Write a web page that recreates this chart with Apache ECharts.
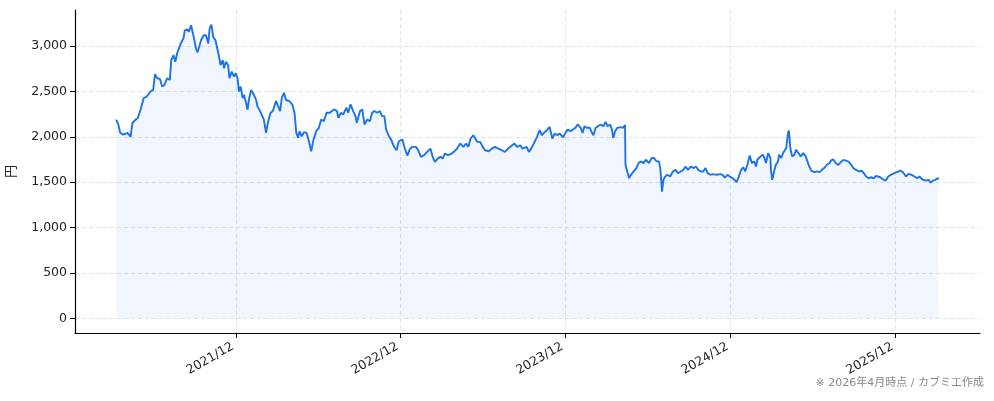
<!DOCTYPE html>
<html>
<head>
<meta charset="utf-8">
<script src="https://cdn.jsdelivr.net/npm/echarts@6/dist/echarts.min.js"></script>
<style>
html,body{margin:0;padding:0;background:#fff;}
#chart{width:994px;height:401px;}
</style>
</head>
<body>
<div id="chart"></div>
<script>
const dates = [
'2021-03-11','2021-03-16','2021-03-20','2021-03-24','2021-03-27','2021-04-05','2021-04-12','2021-04-16','2021-04-23','2021-04-28',
'2021-05-04','2021-05-11','2021-05-18','2021-05-26','2021-06-01','2021-06-05','2021-06-10','2021-06-16','2021-06-21','2021-06-26',
'2021-07-02','2021-07-08','2021-07-11','2021-07-16','2021-07-20','2021-07-24','2021-08-01','2021-08-07','2021-08-10','2021-08-16',
'2021-08-19','2021-08-24','2021-08-29','2021-09-04','2021-09-07','2021-09-11','2021-09-15','2021-09-21','2021-09-26','2021-09-29',
'2021-10-01','2021-10-04','2021-10-08','2021-10-12','2021-10-17','2021-10-21','2021-10-25','2021-10-28','2021-11-02','2021-11-05',
'2021-11-09','2021-11-14','2021-11-17','2021-11-22','2021-11-27','2021-12-01','2021-12-05','2021-12-08','2021-12-12','2021-12-16',
'2021-12-19','2021-12-23','2021-12-27','2021-12-30',
'2022-01-04','2022-01-10','2022-01-15','2022-01-18','2022-01-24','2022-02-01','2022-02-06','2022-02-10','2022-02-16','2022-02-21',
'2022-02-28','2022-03-03','2022-03-09','2022-03-13','2022-03-18','2022-03-22','2022-03-29','2022-04-05','2022-04-10','2022-04-14',
'2022-04-18','2022-04-21','2022-04-26','2022-05-01','2022-05-07','2022-05-12','2022-05-17','2022-05-22','2022-05-28','2022-06-03',
'2022-06-08','2022-06-14','2022-06-20','2022-06-27','2022-07-02','2022-07-07','2022-07-13','2022-07-16','2022-07-22','2022-07-27',
'2022-08-03','2022-08-07','2022-08-12','2022-08-18','2022-08-23','2022-08-26','2022-09-02','2022-09-07','2022-09-12','2022-09-18',
'2022-09-24','2022-09-29','2022-10-04','2022-10-10','2022-10-16','2022-10-21','2022-10-26','2022-10-30','2022-11-05','2022-11-10',
'2022-11-16','2022-11-22','2022-11-27','2022-12-05','2022-12-10','2022-12-16','2022-12-21','2022-12-26',
'2023-01-04','2023-01-09','2023-01-15','2023-01-22','2023-01-29','2023-02-05','2023-02-10','2023-02-15','2023-02-21','2023-02-27',
'2023-03-04','2023-03-09','2023-03-16','2023-03-24','2023-03-29','2023-04-05','2023-04-12','2023-04-19','2023-04-25','2023-04-30',
'2023-05-05','2023-05-11','2023-05-15','2023-05-20','2023-05-26','2023-06-01','2023-06-06','2023-06-14','2023-06-21','2023-06-28',
'2023-07-05','2023-07-13','2023-07-20','2023-07-27','2023-08-05','2023-08-10','2023-08-16','2023-08-23','2023-08-28','2023-09-06',
'2023-09-11','2023-09-16','2023-09-22','2023-09-29','2023-10-05','2023-10-10','2023-10-15','2023-10-21','2023-10-27','2023-11-02',
'2023-11-07','2023-11-13','2023-11-18','2023-11-26','2023-12-01','2023-12-06','2023-12-12','2023-12-18','2023-12-23','2023-12-28',
'2024-01-04','2024-01-08','2024-01-12','2024-01-18','2024-01-24','2024-01-27','2024-02-01','2024-02-06','2024-02-11','2024-02-17',
'2024-02-23','2024-02-28','2024-03-03','2024-03-09','2024-03-13','2024-03-16','2024-03-20','2024-03-25','2024-04-01','2024-04-07',
'2024-04-11','2024-04-12','2024-04-16','2024-04-20','2024-04-24','2024-04-30','2024-05-06','2024-05-11','2024-05-16','2024-05-22',
'2024-05-27','2024-06-03','2024-06-09','2024-06-14','2024-06-20','2024-06-25','2024-06-28','2024-07-02','2024-07-05','2024-07-09',
'2024-07-14','2024-07-20','2024-07-26','2024-08-01','2024-08-06','2024-08-12','2024-08-18','2024-08-23','2024-08-28','2024-09-04',
'2024-09-10','2024-09-15','2024-09-20','2024-09-26','2024-10-01','2024-10-06','2024-10-11','2024-10-17','2024-10-23','2024-10-30',
'2024-11-08','2024-11-13','2024-11-18','2024-11-24','2024-11-29','2024-12-05','2024-12-10','2024-12-14','2024-12-19','2024-12-24',
'2024-12-29',
'2025-01-02','2025-01-07','2025-01-12','2025-01-17','2025-01-22','2025-01-26','2025-01-29','2025-02-05','2025-02-10','2025-02-14',
'2025-02-17','2025-02-22','2025-02-27','2025-02-28','2025-03-03','2025-03-07','2025-03-11','2025-03-16','2025-03-18','2025-03-23',
'2025-03-27','2025-04-03','2025-04-07','2025-04-09','2025-04-12','2025-04-16','2025-04-21','2025-04-25','2025-04-30','2025-05-05',
'2025-05-11','2025-05-16','2025-05-20','2025-05-24','2025-05-29','2025-06-04','2025-06-10','2025-06-16','2025-06-21','2025-06-26',
'2025-07-02','2025-07-08','2025-07-11','2025-07-16','2025-07-22','2025-07-27','2025-08-03','2025-08-08','2025-08-13','2025-08-19',
'2025-08-25','2025-08-30','2025-09-05','2025-09-11','2025-09-17','2025-09-22','2025-09-27','2025-10-03','2025-10-09','2025-10-14',
'2025-10-19','2025-10-23','2025-10-28','2025-11-03','2025-11-09','2025-11-15','2025-11-20','2025-11-25','2025-12-01','2025-12-07',
'2025-12-12','2025-12-18','2025-12-24','2025-12-30',
'2026-01-06','2026-01-12','2026-01-18','2026-01-23','2026-01-29','2026-02-06','2026-02-12','2026-02-17','2026-02-22','2026-02-27',
'2026-03-04','2026-03-07'
];
const prices = [
2190,2135,2044,2062,2026,2044,2000,2153,2190,2208,
2300,2427,2445,2500,2518,2690,2646,2639,2555,2573,
2646,2628,2847,2902,2829,2920,3029,3084,3175,3186,
3157,3230,3120,2975,2931,2993,3066,3120,3120,3139,
3029,3194,3237,3102,3066,2975,2883,2792,2847,2756,
2829,2792,2646,2719,2664,2701,2646,2500,2555,2427,
2464,2391,2300,2409,
2518,2464,2409,2336,2281,2192,2044,2155,2266,2285,
2396,2414,2285,2433,2488,2407,2396,2359,2266,2044,
1989,2063,2007,2052,2044,1952,1841,1970,2063,2100,
2192,2174,2266,2266,2285,2303,2285,2211,2266,2248,
2322,2266,2359,2285,2229,2155,2285,2303,2137,2192,
2174,2266,2285,2266,2285,2229,2229,2081,2007,1970,
1896,1852,1952,1970,1878,1793,1859,1890,
1890,1853,1780,1798,1835,1871,1780,1724,1761,1780,
1761,1816,1798,1816,1835,1871,1927,1890,1927,1890,
1982,2018,2011,1945,1945,1890,1853,1842,1871,1890,
1871,1853,1835,1871,1908,1927,1890,1908,1871,1890,
1835,1871,1927,2000,2074,2018,2048,2074,2110,1982,
2037,2018,2037,1996,2044,2081,2063,2081,2100,2137,
2100,2044,2118,2100,2100,2063,2018,2100,2118,2137,
2118,2166,2118,2137,2081,1989,2063,2100,2107,2100,
2130,1693,1619,1545,1582,1619,1656,1711,1730,1711,
1748,1711,1767,1767,1730,1730,1656,1397,1526,1563,
1582,1563,1619,1637,1600,1619,1637,1674,1637,1674,
1656,1674,1637,1619,1619,1656,1600,1582,1589,1582,
1589,1582,1552,1582,1563,1545,1526,1500,1563,1637,
1663,
1619,1693,1796,1711,1730,1674,1748,1785,1804,1767,
1711,1822,1767,1637,1526,1619,1693,1730,1804,1767,
1822,1878,2044,2070,1878,1785,1804,1859,1822,1785,
1822,1785,1730,1674,1626,1611,1619,1611,1637,1656,
1693,1711,1739,1754,1710,1691,1728,1746,1739,1728,
1691,1654,1636,1618,1629,1599,1563,1544,1555,1544,
1570,1592,1555,1533,1518,1563,1581,1592,1607,1618,
1629,1607,1563,1592,
1581,1563,1544,1563,1533,1518,1526,1496,1518,1526,
1544,1533
];
const xTickDates = ['2021-12-01','2022-12-01','2023-12-01','2024-12-01','2025-12-01'];
const yTicks = [0, 500, 1000, 1500, 2000, 2500, 3000];
const yLabel = '円';
const footnote = '※ 2026年4月時点 / カブミエ作成';

const FONT = '"DejaVu Sans", "Noto Sans CJK JP", sans-serif';
const times = dates.map(d => Date.parse(d));
const t0 = times[0];
const t1 = times[times.length - 1];
const span = t1 - t0;
const pMax = Math.max(...prices);
const xTicks = xTickDates.map(d => Date.parse(d));

const chart = echarts.init(document.getElementById('chart'), null, {renderer: 'canvas'});
chart.setOption({
  animation: false,
  backgroundColor: '#ffffff',
  grid: {left: 75, right: 14, top: 10, bottom: 68, containLabel: false, outerBoundsMode: 'none'},
  xAxis: {
    type: 'value',
    min: t0 - span * 0.05,
    max: t1 + span * 0.05,
    axisLine: {show: true, onZero: false, lineStyle: {color: '#000', width: 1.2}},
    axisTick: {show: true, length: 5, lineStyle: {color: '#000'}, customValues: xTicks},
    axisLabel: {
      customValues: xTicks,
      rotate: 30,
      color: '#222',
      fontSize: 12.5,
      fontFamily: FONT,
      margin: 18,
      align: 'right',
      verticalAlign: 'bottom',
      formatter: v => { const d = new Date(v); return d.getUTCFullYear() + '/' + String(d.getUTCMonth() + 1).padStart(2, '0'); }
    },
    splitLine: {show: true, lineStyle: {color: '#e3e3e3', type: [4, 3], width: 1}}
  },
  yAxis: {
    type: 'value',
    min: -pMax * 0.05,
    max: pMax * 1.05,
    name: yLabel,
    nameLocation: 'middle',
    nameGap: 58,
    nameRotate: 90,
    nameTextStyle: {color: '#222', fontSize: 13, fontFamily: '"Noto Sans CJK JP", sans-serif'},
    axisLine: {show: true, onZero: false, lineStyle: {color: '#000', width: 1.2}},
    axisTick: {show: true, length: 5, lineStyle: {color: '#000'}, customValues: yTicks},
    axisLabel: {
      customValues: yTicks,
      color: '#222',
      fontSize: 12.5,
      fontFamily: FONT,
      margin: 8,
      formatter: v => Number(v).toLocaleString('en-US')
    },
    splitLine: {show: true, lineStyle: {color: '#e3e3e3', type: [4, 3], width: 1}}
  },
  series: [{
    type: 'line',
    data: times.map((t, i) => [t, prices[i]]),
    showSymbol: false,
    symbol: 'none',
    lineStyle: {color: '#1a73e8', width: 1.9},
    areaStyle: {color: 'rgba(26,115,232,0.09)', origin: 0},
    z: 3
  }],
  graphic: [{
    type: 'text',
    right: 10,
    top: 378,
    style: {text: footnote, fill: '#888', fontSize: 11, fontFamily: FONT}
  }]
});
</script>
</body>
</html>
